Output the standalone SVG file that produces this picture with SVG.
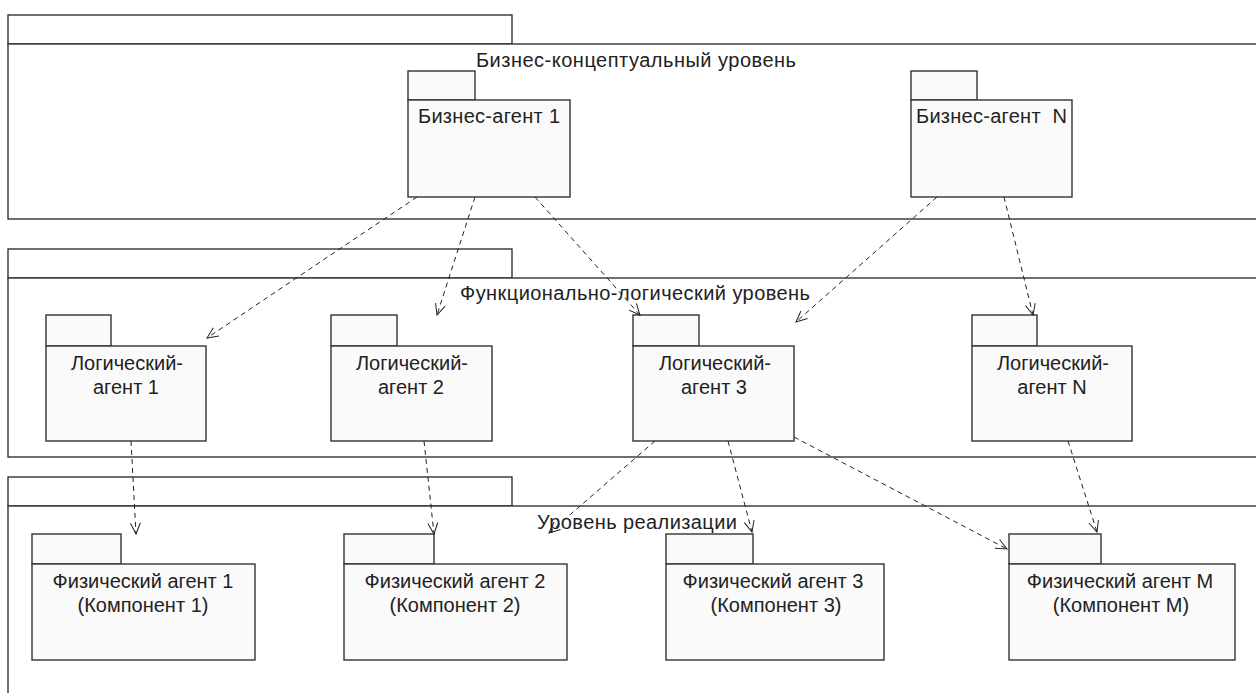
<svg xmlns="http://www.w3.org/2000/svg" width="1256" height="693" viewBox="0 0 1256 693">
<defs>
<style>
.lay{fill:#ffffff;stroke:#333333;stroke-width:1.4}
.pk{fill:#fafafa;stroke:#333333;stroke-width:1.4}
.t{font-family:"Liberation Sans",Arial,sans-serif;font-size:20px;fill:#222222}
.c{text-anchor:middle}
.dep{fill:none;stroke:#222222;stroke-width:1;stroke-dasharray:5 4;marker-end:url(#open)}
</style>
<marker id="open" viewBox="-12 -6 14 12" refX="0" refY="0" markerWidth="14" markerHeight="12" markerUnits="userSpaceOnUse" orient="auto">
<path d="M-11,-5 L0,0 L-11,5" fill="none" stroke="#222222" stroke-width="1"/>
</marker>
</defs>
<rect width="1256" height="693" fill="#ffffff"/>

<g id="layer-business">
<rect class="lay" x="8" y="15" width="504" height="29"/>
<rect class="lay" x="8" y="44" width="1262" height="175"/>
<text class="t" x="476" y="67" textLength="320" lengthAdjust="spacing">Бизнес-концептуальный уровень</text>
</g>
<g id="layer-logic">
<rect class="lay" x="8" y="249" width="504" height="29"/>
<rect class="lay" x="8" y="278" width="1262" height="179"/>
<text class="t" x="460" y="300" textLength="350" lengthAdjust="spacing">Функционально-логический уровень</text>
</g>
<g id="layer-impl">
<rect class="lay" x="8" y="477" width="504" height="29"/>
<rect class="lay" x="8" y="506" width="1262" height="210"/>
<text class="t" x="537" y="529" textLength="200" lengthAdjust="spacing">Уровень реализации</text>
</g>

<g id="ba1">
<rect class="pk" x="408" y="71" width="67" height="29"/>
<rect class="pk" x="408" y="100" width="162" height="97"/>
<text class="t" x="418" y="123" textLength="142" lengthAdjust="spacing">Бизнес-агент 1</text>
</g>
<g id="baN">
<rect class="pk" x="911" y="71" width="66" height="29"/>
<rect class="pk" x="911" y="100" width="161" height="97"/>
<text class="t" x="916" y="123" xml:space="preserve" textLength="151" lengthAdjust="spacing">Бизнес-агент  N</text>
</g>

<g id="la1">
<rect class="pk" x="46" y="315" width="65" height="31"/>
<rect class="pk" x="46" y="346" width="160" height="95"/>
<text class="t c" x="127" y="370">Логический-</text>
<text class="t c" x="126" y="394">агент 1</text>
</g>
<g id="la2">
<rect class="pk" x="331" y="315" width="66" height="31"/>
<rect class="pk" x="331" y="346" width="161" height="95"/>
<text class="t c" x="412" y="370">Логический-</text>
<text class="t c" x="411" y="394">агент 2</text>
</g>
<g id="la3">
<rect class="pk" x="633" y="315" width="66" height="31"/>
<rect class="pk" x="633" y="346" width="161" height="95"/>
<text class="t c" x="715" y="370">Логический-</text>
<text class="t c" x="714" y="394">агент 3</text>
</g>
<g id="laN">
<rect class="pk" x="972" y="315" width="65" height="31"/>
<rect class="pk" x="972" y="346" width="160" height="95"/>
<text class="t c" x="1053" y="370">Логический-</text>
<text class="t c" x="1052" y="394">агент N</text>
</g>

<g id="pa1">
<rect class="pk" x="32" y="534" width="89" height="30"/>
<rect class="pk" x="32" y="564" width="223" height="96"/>
<text class="t c" x="143" y="588">Физический агент 1</text>
<text class="t c" x="143" y="612">(Компонент 1)</text>
</g>
<g id="pa2">
<rect class="pk" x="344" y="534" width="90" height="30"/>
<rect class="pk" x="344" y="564" width="223" height="96"/>
<text class="t c" x="455" y="588">Физический агент 2</text>
<text class="t c" x="455" y="612">(Компонент 2)</text>
</g>
<g id="pa3">
<rect class="pk" x="666" y="534" width="87" height="30"/>
<rect class="pk" x="666" y="564" width="218" height="96"/>
<text class="t c" x="773" y="588">Физический агент 3</text>
<text class="t c" x="776" y="612">(Компонент 3)</text>
</g>
<g id="paM">
<rect class="pk" x="1009" y="534" width="92" height="30"/>
<rect class="pk" x="1009" y="564" width="226" height="96"/>
<text class="t c" x="1120" y="588">Физический агент M</text>
<text class="t c" x="1121" y="612">(Компонент M)</text>
</g>

<g id="connectors">
<line class="dep" x1="417" y1="197" x2="207" y2="338"/>
<line class="dep" x1="475" y1="197" x2="437" y2="315"/>
<line class="dep" x1="535" y1="197" x2="640" y2="315"/>
<line class="dep" x1="937" y1="197" x2="796" y2="322"/>
<line class="dep" x1="1004" y1="197" x2="1033" y2="315"/>
<line class="dep" x1="131" y1="441" x2="136" y2="534"/>
<line class="dep" x1="424" y1="441" x2="434" y2="534"/>
<line class="dep" x1="655" y1="441" x2="549" y2="533"/>
<line class="dep" x1="728" y1="441" x2="752" y2="532"/>
<line class="dep" x1="794" y1="437" x2="1007" y2="549"/>
<line class="dep" x1="1068" y1="441" x2="1097" y2="532"/>
</g>
</svg>
